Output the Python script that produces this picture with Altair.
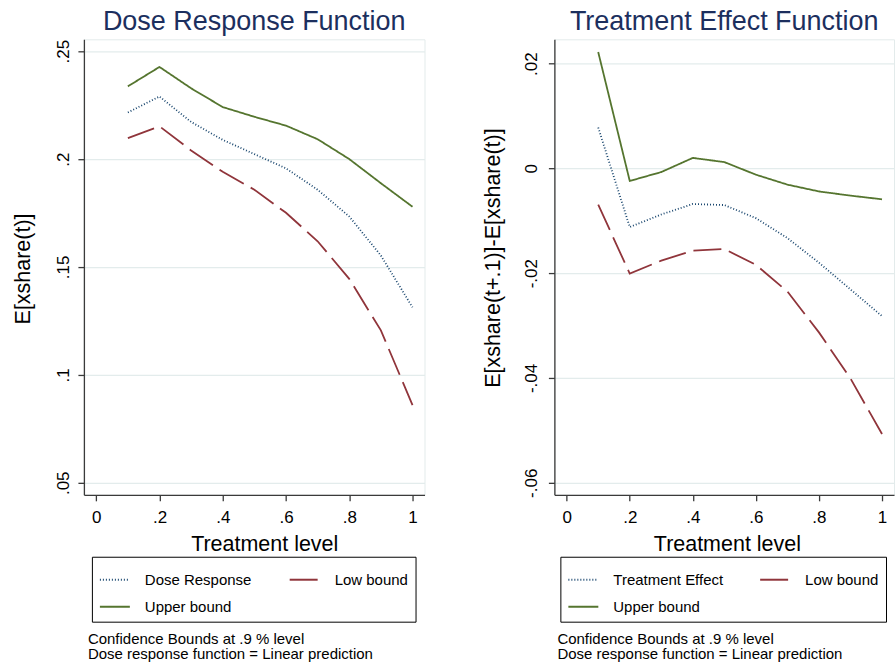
import altair as alt
import pandas as pd

FONT = "Liberation Sans"

# ---------------- data ----------------
treatment = [0.1, 0.2, 0.3, 0.4, 0.5, 0.6, 0.7, 0.8, 0.9, 1.0]

dose_response = [0.2216, 0.2290, 0.2172, 0.2089, 0.2023, 0.1957, 0.1858, 0.1734, 0.1553, 0.1313]
dose_low = [0.2097, 0.2152, 0.2040, 0.1941, 0.1858, 0.1751, 0.1619, 0.1445, 0.1206, 0.0860]
dose_upper = [0.2337, 0.2427, 0.2328, 0.2241, 0.2196, 0.2155, 0.2092, 0.2000, 0.1888, 0.1779]

effect = [0.0078, -0.0112, -0.0088, -0.0068, -0.0070, -0.0095, -0.0133, -0.0180, -0.0231, -0.0282]
effect_low = [-0.0069, -0.0201, -0.0176, -0.0157, -0.0154, -0.0184, -0.0235, -0.0313, -0.0401, -0.0507]
effect_upper = [0.0222, -0.0024, -0.0007, 0.0020, 0.0012, -0.0012, -0.0031, -0.0044, -0.0052, -0.0059]

left_names = ["Dose Response", "Low bound", "Upper bound"]
right_names = ["Treatment Effect", "Low bound", "Upper bound"]

x_ticks = [0, 0.2, 0.4, 0.6, 0.8, 1.0]
left_y_ticks = [0.05, 0.10, 0.15, 0.20, 0.25]
right_y_ticks = [-0.06, -0.04, -0.02, 0.0, 0.02]

notes = ["Confidence Bounds at .9 % level", "Dose response function = Linear prediction"]

# ---------------- style ----------------
COLORS = ["#1a476f", "#90353b", "#55752f"]
DASHES = [[1, 2], [28, 8], [1, 0]]
TITLE_COLOR = "#1c2f5e"
LABEL_EXPR = "(datum.value < 0 ? '-' : '') + replace(format(abs(datum.value), '~g'), '0.', '.')"

PLOT_W_L = 341
PLOT_W_R = 340
PLOT_H = 456


def make_panel(series, names, title, ytitle, ydomain, yticks, width,
               ytitle_x, ytitle_y, ylabel_pad, xtitle_x, legend_x, col_pad, notes_x):
    rows = []
    for name, vals in zip(names, series):
        for t, v in zip(treatment, vals):
            rows.append({"t": t, "value": v, "series": name})
    df = pd.DataFrame(rows)

    legend = alt.Legend(
        orient="none", legendX=legend_x, legendY=518, title=None,
        direction="horizontal", columns=2, columnPadding=col_pad, rowPadding=3,
        symbolType="stroke", symbolSize=900, symbolStrokeWidth=2,
        labelFont=FONT, labelFontSize=15, labelColor="black", labelOffset=14,
        labelLimit=300, padding=7, strokeColor="black", fillColor="white",
        gridAlign="each",
    )

    lines = alt.Chart(df).mark_line(strokeWidth=1.8, clip=True).encode(
        x=alt.X("t:Q",
                scale=alt.Scale(domain=[-0.039, 1.038], nice=False, zero=False),
                axis=alt.Axis(values=x_ticks, labelExpr=LABEL_EXPR, grid=False,
                              title="Treatment level", titleFontSize=21.5,
                              titleX=xtitle_x, titleY=56, titleAlign="center",
                              titleBaseline="alphabetic",
                              labelFontSize=17, tickSize=6, labelPadding=8.7,
                              labelFlush=False)),
        y=alt.Y("value:Q",
                scale=alt.Scale(domain=ydomain, nice=False, zero=False),
                axis=alt.Axis(values=yticks, labelExpr=LABEL_EXPR, grid=True,
                              title=ytitle, titleFontSize=21.5, titleAngle=270,
                              titleX=ytitle_x, titleY=ytitle_y, titleAlign="center",
                              titleBaseline="alphabetic",
                              labelFontSize=17, labelAngle=270, labelAlign="center",
                              labelBaseline="bottom", tickSize=6,
                              labelPadding=ylabel_pad, labelFlush=False)),
        color=alt.Color("series:N", scale=alt.Scale(domain=names, range=COLORS),
                        legend=legend),
        strokeDash=alt.StrokeDash("series:N", scale=alt.Scale(domain=names, range=DASHES),
                                  legend=legend),
    )

    note_text = alt.Chart(pd.DataFrame({"text": ["\n".join(notes)]})).mark_text(
        align="left", baseline="alphabetic", lineBreak="\n", lineHeight=15,
        fontSize=15, font=FONT, color="black",
    ).encode(x=alt.value(notes_x), y=alt.value(605.8), text="text:N")

    return alt.layer(lines, note_text).properties(
        width=width, height=PLOT_H,
        title=alt.TitleParams(title, fontSize=27, font=FONT, color=TITLE_COLOR,
                              fontWeight="normal", anchor="middle", frame="group",
                              baseline="alphabetic", offset=-18),
    )


left = make_panel([dose_response, dose_low, dose_upper], left_names,
                  "Dose Response Function", "E[xshare(t)]",
                  [0.0444, 0.2555], left_y_ticks, PLOT_W_L,
                  ytitle_x=-54.2, ytitle_y=229.4, ylabel_pad=5.6, xtitle_x=180.5,
                  legend_x=8, col_pad=34, notes_x=4)

right = make_panel([effect, effect_low, effect_upper], right_names,
                   "Treatment Effect Function", "E[xshare(t+.1)]-E[xshare(t)]",
                   [-0.0623, 0.02463], right_y_ticks, PLOT_W_R,
                   ytitle_x=-55.2, ytitle_y=218.5, ylabel_pad=7.5, xtitle_x=172.7,
                   legend_x=6, col_pad=32, notes_x=3)

chart = alt.hconcat(left, right, spacing=56).resolve_scale(
    x="independent", y="independent", color="independent", strokeDash="independent"
).resolve_legend(
    color="independent", strokeDash="independent"
).properties(
    padding={"left": 12, "top": 7, "right": 0, "bottom": 0},
    background="white",
).configure_view(
    stroke="#e3ebeb", strokeWidth=1,
).configure_axis(
    domainColor="#3a3a3a", tickColor="#3a3a3a", domainWidth=1.3, tickWidth=1.3,
    labelColor="black", titleColor="black", labelFont=FONT, titleFont=FONT,
    titleFontWeight="normal", gridColor="#e3ecec", gridWidth=1.2,
)

chart.save("out.html", embed_options={"renderer": "svg", "actions": False})
